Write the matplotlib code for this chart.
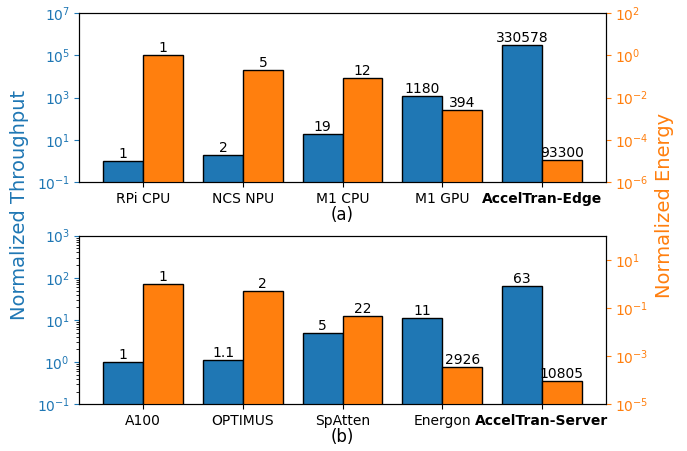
import numpy as np
import matplotlib
matplotlib.use("Agg")
import matplotlib.pyplot as plt

# ---------------- DATA ----------------
edge_names = ["RPi CPU", "NCS NPU", "M1 CPU", "M1 GPU", "AccelTran-Edge"]
edge_throughput = [1, 2, 19, 1180, 330578]
edge_energy_gain = [1, 5, 12, 394, 93300]

server_names = ["A100", "OPTIMUS", "SpAtten", "Energon", "AccelTran-Server"]
server_throughput = [1, 1.1, 5, 11, 63]
server_energy_gain = [1, 2, 22, 2926, 10805]

blue = "#1f77b4"
orange = "#ff7f0e"
width = 0.4

fig = plt.figure(figsize=(6.87, 4.51), dpi=100)
ax_top = fig.add_axes([0.1157, 0.5965, 0.766, 0.374])
ax_bot = fig.add_axes([0.1157, 0.1036, 0.766, 0.3738])


def draw_panel(ax, names, thr, gain, thr_lim, en_lim, xlabel):
    x = np.arange(len(names))
    energy = [1.0 / g for g in gain]
    ax2 = ax.twinx()

    b1 = ax.bar(x - width / 2, thr, width, color=blue, edgecolor="black", linewidth=1)
    b2 = ax2.bar(x + width / 2, energy, width, color=orange, edgecolor="black", linewidth=1)

    ax.set_yscale("log")
    ax2.set_yscale("log")
    ax.set_ylim(*thr_lim)
    ax2.set_ylim(*en_lim)

    ax.bar_label(b1, labels=[f"{v:g}" for v in thr], fontsize=10, padding=0)
    ax2.bar_label(b2, labels=[f"{g:g}" for g in gain], fontsize=10, padding=0)

    ax.set_xticks(x)
    ax.set_xticklabels(names, fontsize=10)
    ax.get_xticklabels()[-1].set_fontweight("bold")
    ax.set_xlabel(xlabel, fontsize=12, labelpad=0)

    ax.tick_params(axis="y", colors=blue, labelsize=10)
    ax2.tick_params(axis="y", colors=orange, labelsize=10)
    for a in (ax, ax2):
        for s in a.spines.values():
            s.set_color("black")
    return ax2


draw_panel(ax_top, edge_names, edge_throughput, edge_energy_gain,
           (1e-1, 1e7), (1e-6, 1e2), "(a)")
draw_panel(ax_bot, server_names, server_throughput, server_energy_gain,
           (1e-1, 1e3), (1e-5, 1e2), "(b)")

# shared y labels centred on both panels
fig.text(0.028, 1 - 205 / 451, "Normalized Throughput", color=blue, fontsize=14,
         rotation=90, ha="center", va="center")
fig.text(0.967, 1 - 205 / 451, "Normalized Energy", color=orange, fontsize=14,
         rotation=90, ha="center", va="center")

fig.savefig("out.png", dpi=100)
